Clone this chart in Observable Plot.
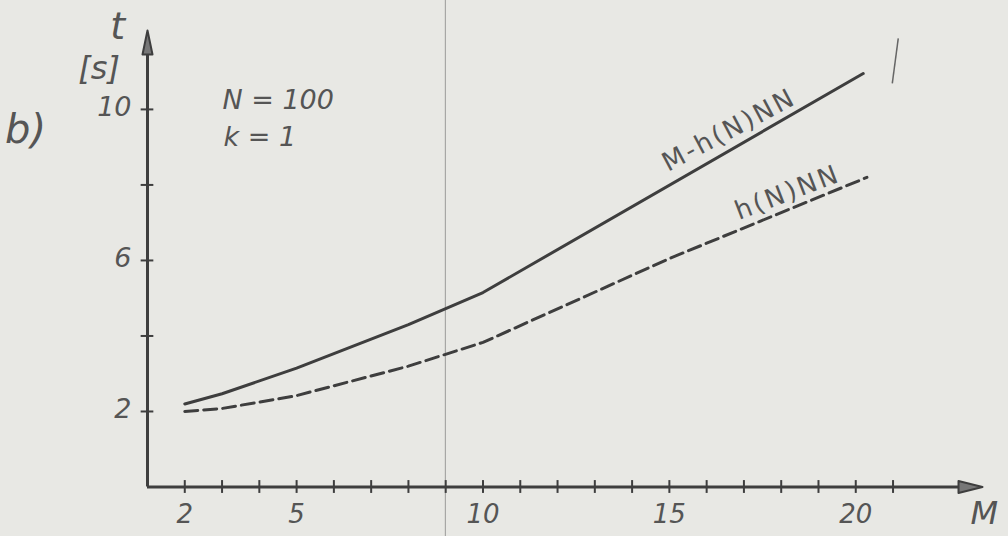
<!DOCTYPE html>
<html><head><meta charset="utf-8">
<script src="https://cdn.jsdelivr.net/npm/d3@7"></script>
<script src="https://cdn.jsdelivr.net/npm/@observablehq/plot@0.6"></script>
<style>body{margin:0;background:#e8e8e4;} svg{display:block}</style>
</head><body><div id="chart"></div>
<script>
// Series
const M_solid = [2, 3, 5, 8, 10, 20.2];
const t_solid = [2.2, 2.47, 3.15, 4.3, 5.15, 10.95];
const M_dashed = [2, 3, 5, 8, 10, 15, 20.3];
const t_dashed = [2.0, 2.08, 2.42, 3.2, 3.83, 6.05, 8.2];
const seriesLabels = ["M-h(N)NN", "h(N)NN"];
// Axis ticks
const xTickMarks = [2,3,4,5,6,7,8,9,10,11,12,13,14,15,16,17,18,19,20,21];
const xTickLabels = [2, 5, 10, 15, 20];
const yTickMarks = [2, 4, 6, 8, 10];
const yTickLabels = [2, 6, 10];

const solid = M_solid.map((m, i) => ({M: m, t: t_solid[i]}));
const dashed = M_dashed.map((m, i) => ({M: m, t: t_dashed[i]}));
const ink = "#3e3e3e", txt = "#555";
const font = "DejaVu Sans";

const head = {
  draw(context, l, r) {
    context.moveTo(0, -l);
    context.lineTo(-r, 0);
    context.lineTo(r, 0);
    context.closePath();
  }
};

const plot = Plot.plot({
  width: 1008, height: 536,
  marginLeft: 147, marginRight: 26, marginTop: 30, marginBottom: 49.5,
  x: {domain: [1, 23.4], axis: null},
  y: {domain: [0, 12.09], axis: null},
  style: {background: "#e8e8e4", overflow: "visible"},
  marks: [
    // scan artifacts
    Plot.ruleX([8.99], {y1: -1.4, y2: 13, stroke: "#9a9a98", strokeWidth: 1}),
    Plot.link([{x1: 21.14, y1: 11.88, x2: 20.98, y2: 10.69}], {x1: "x1", y1: "y1", x2: "x2", y2: "y2", stroke: "#666", strokeWidth: 1.5}),
    // axes
    Plot.ruleY([0], {x1: 1, x2: 22.9, stroke: ink, strokeWidth: 3}),
    Plot.ruleX([1], {y1: 0, y2: 11.6, stroke: ink, strokeWidth: 3}),
    Plot.vector([{x: 23.4, y: 0}], {x: "x", y: "y", length: 24, rotate: 90, anchor: "end", shape: head, r: 6, fill: "#777", stroke: ink, strokeWidth: 2}),
    Plot.vector([{x: 1, y: 12.09}], {x: "x", y: "y", length: 24, rotate: 0, anchor: "end", shape: head, r: 5, fill: "#777", stroke: ink, strokeWidth: 2}),
    Plot.ruleX(xTickMarks, {x: d => d, y1: -0.17, y2: 0.17, stroke: ink, strokeWidth: 2}),
    Plot.ruleY(yTickMarks, {y: d => d, x1: 0.83, x2: 1.17, stroke: ink, strokeWidth: 2}),
    Plot.text(xTickLabels, {x: d => d, y: 0, dy: 28, text: d => String(d), fill: txt, fontSize: 26, fontStyle: "italic", fontFamily: font}),
    Plot.text(yTickLabels, {x: 1, y: d => d, dx: -16, dy: -2, text: d => String(d), textAnchor: "end", fill: txt, fontSize: 27, fontStyle: "italic", fontFamily: font}),
    // series
    Plot.line(solid, {x: "M", y: "t", stroke: ink, strokeWidth: 3}),
    Plot.line(dashed, {x: "M", y: "t", stroke: ink, strokeWidth: 3, strokeDasharray: "13,6"}),
    Plot.text([seriesLabels[0]], {x: 16.6, y: 9.45, text: d => d, rotate: -28, fill: txt, fontSize: 26, fontFamily: font}),
    Plot.text([seriesLabels[1]], {x: 18.17, y: 7.8, text: d => d, rotate: -21, fill: txt, fontSize: 26, fontFamily: font}),
    // annotations
    Plot.text(["t"], {x: 0.2, y: 12.2, text: d => d, fill: txt, fontSize: 38, fontStyle: "italic", fontFamily: font}),
    Plot.text(["[s]"], {x: -0.3, y: 11.08, text: d => d, fill: txt, fontSize: 32, fontStyle: "italic", fontFamily: font}),
    Plot.text(["b)"], {x: -2.27, y: 9.44, text: d => d, fill: txt, fontSize: 40, fontStyle: "italic", fontFamily: font}),
    Plot.text(["N = 100"], {x: 3.01, y: 10.24, text: d => d, textAnchor: "start", fill: txt, fontSize: 27, fontStyle: "italic", fontFamily: font}),
    Plot.text(["k = 1"], {x: 3.04, y: 9.26, text: d => d, textAnchor: "start", fill: txt, fontSize: 27, fontStyle: "italic", fontFamily: font}),
    Plot.text(["M"], {x: 23.45, y: -0.72, text: d => d, fill: txt, fontSize: 32, fontStyle: "italic", fontFamily: font})
  ]
});
d3.select(plot).selectAll("text").filter(function() { return seriesLabels.includes(this.textContent); })
  .attr("letter-spacing", "2.5");
document.getElementById("chart").appendChild(plot);
</script>
</body></html>
